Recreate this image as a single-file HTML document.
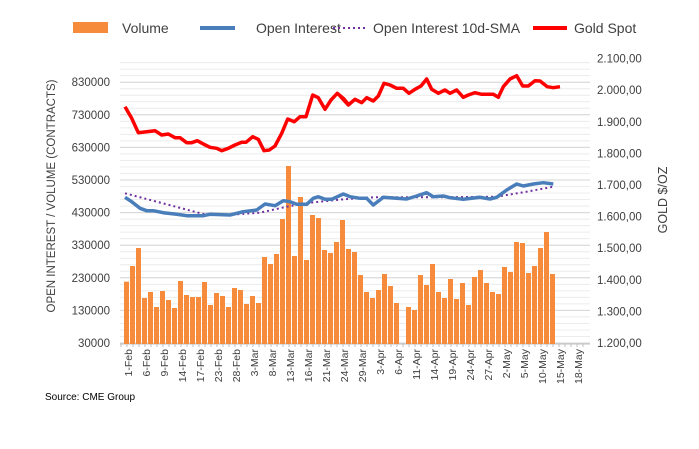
<!DOCTYPE html><html><head><meta charset="utf-8"><style>
body{margin:0;background:#fff;font-family:"Liberation Sans",sans-serif}
</style></head><body>
<svg id="s" width="699" height="444" xmlns="http://www.w3.org/2000/svg" font-family="Liberation Sans, sans-serif"></svg>
<script>
const s=document.getElementById('s');let h='';
const yL=v=>343-(v-30000)/100000*32.6;
for(let v=30000;v<=890000;v+=20000){h+=`<line x1="120" x2="590" y1="${yL(v)}" y2="${yL(v)}" stroke="#ececec" stroke-width="1"/>`;}
for(let v=30000;v<=830000;v+=100000){const y=yL(v);h+=`<line x1="120" x2="590" y1="${y}" y2="${y}" stroke="#d6d6d6" stroke-width="1"/>`;
h+=`<text x="110" y="${y+4}" font-size="11.5" fill="#404040" text-anchor="end">${v}</text>`;}
for(let i=0;i<10;i++){const y=343-i*31.6;const v=(1200+i*100);h+=`<text x="597" y="${y+4}" font-size="11.5" fill="#404040">${String(v).replace(/(\d)(\d{3})$/,'$1.$2')},00</text>`;}
h+=`<line x1="120" x2="590" y1="344" y2="344" stroke="#bfbfbf"/>`;
const Z=[665,618,564,714,696,741,693,720,744,663,705,711,711,666,735,699,708,741,684,690,732,708,729,591,612,582,477,318,588,411,600,465,474,570,579,546,480,567,576,645,696,714,690,642,678,729,null,741,750,645,675,612,696,714,657,717,669,735,651,630,669,696,702,621,636,546,549,639,618,564,516,642];
Z.forEach((z,i)=>{if(z==null)return;const t=60+z/3;h+=`<rect x="${124+i*6}" y="${t}" width="5" height="${344-t}" fill="#f68b3c"/>`;});
for(let i=0;i<78;i++){const x=121+i*6;h+=`<line x1="${x}" x2="${x}" y1="344" y2="347" stroke="#bfbfbf"/>`;}
const L=["1-Feb","6-Feb","9-Feb","14-Feb","17-Feb","23-Feb","28-Feb","3-Mar","8-Mar","13-Mar","16-Mar","21-Mar","24-Mar","29-Mar","3-Apr","6-Apr","11-Apr","14-Apr","19-Apr","24-Apr","27-Apr","2-May","5-May","10-May","15-May","18-May"];
L.forEach((l,i)=>{const x=128+i*18+4;h+=`<text transform="translate(${x},349) rotate(-90)" font-size="10.5" fill="#404040" text-anchor="end">${l}</text>`;});
function pts(a,b){let p=[];for(let i=0;i<a.length;i+=2)p.push([110+a[i]/3,60+a[i+1]/3]);for(let i=0;i<b.length;i+=2)p.push([340+b[i]/3,60+b[i+1]/3]);return p.map(q=>q[0].toFixed(1)+','+q[1].toFixed(1)).join(' ');}
const sma=pts([45,400,280,462,360,464,450,458,530,440,600,428,700,418],[100,412,300,412,470,410,560,395,640,380]);
h+=`<polyline points="${sma}" fill="none" stroke="#7030a0" stroke-width="2" stroke-dasharray="2,3"/>`;
const oi=pts([45,412,65,425,90,445,110,452,130,452,160,458,200,463,230,467,280,467,300,463,360,465,400,455,440,450,465,432,495,437,520,422,540,425,560,433,590,433,610,415,625,410,645,418,665,418,700,402,715,408],[30,410,60,415,80,415,100,435,130,412,200,417,230,408,260,398,280,410,310,408,330,413,370,418,420,412,450,417,470,412,500,390,530,372,550,378,580,372,610,368,640,372]);
h+=`<polyline points="${oi}" fill="none" stroke="#4a7ebb" stroke-width="3.5" stroke-linejoin="round"/>`;
const au=pts([45,140,65,175,85,218,135,212,155,225,175,222,195,233,210,233,230,248,245,248,262,242,280,252,300,262,320,265,335,272,355,265,375,255,395,247,408,247,428,230,445,238,462,272,478,270,495,258,515,220,533,177,553,185,570,170,588,170,608,105,625,113,645,148,663,120,682,100,700,115,715,133],[0,108,25,135,45,118,65,128,80,113,100,123,115,108,132,70,150,75,170,85,190,85,207,100,225,88,243,78,260,57,275,88,295,100,315,90,330,100,350,90,370,112,385,105,405,98,425,103,460,103,475,112,490,80,510,57,530,47,548,78,565,78,585,62,600,63,622,80,640,83,660,80]);
h+=`<polyline points="${au}" fill="none" stroke="#ff0000" stroke-width="3.5" stroke-linejoin="round"/>`;
h+=`<rect x="73" y="22" width="35" height="11" fill="#f68b3c"/><text x="122" y="33" font-size="14" fill="#404040">Volume</text>`;
h+=`<line x1="200" x2="235" y1="28" y2="28" stroke="#4a7ebb" stroke-width="4"/><text x="256" y="33" font-size="14" fill="#404040">Open Interest</text>`;
h+=`<line x1="333" x2="367" y1="28" y2="28" stroke="#7030a0" stroke-width="2" stroke-dasharray="2,3"/><text x="373" y="33" font-size="14" fill="#404040">Open Interest 10d-SMA</text>`;
h+=`<line x1="533" x2="567" y1="28" y2="28" stroke="#ff0000" stroke-width="4"/><text x="574" y="33" font-size="14" fill="#404040">Gold Spot</text>`;
h+=`<text transform="translate(55,196) rotate(-90)" font-size="11.5" fill="#404040" text-anchor="middle">OPEN INTEREST / VOLUME (CONTRACTS)</text>`;
h+=`<text transform="translate(667,200) rotate(-90)" font-size="12.5" fill="#404040" text-anchor="middle">GOLD $/OZ</text>`;
h+=`<text x="45" y="400" font-size="10" fill="#000">Source: CME Group</text>`;
s.innerHTML=h;
</script></body></html>
